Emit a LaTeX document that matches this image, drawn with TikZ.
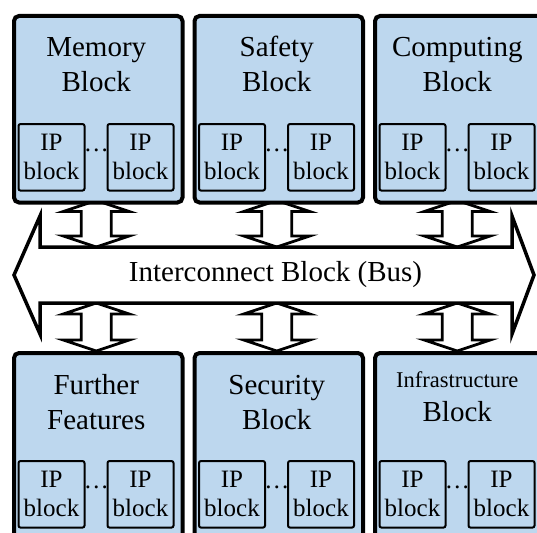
\documentclass[tikz,border=0pt]{standalone}
\usepackage{fontspec}
\setmainfont{Liberation Serif}
\definecolor{blockblue}{HTML}{BDD7EE}
\tikzset{
  unit/.style={draw=black, line width=4pt, fill=blockblue, rounded corners=5pt,
    minimum width=168.5pt, minimum height=186.5pt, inner sep=0pt, anchor=north west},
  ipbox/.style={draw=black, line width=2pt, fill=blockblue, rounded corners=2pt,
    minimum width=66pt, minimum height=66.5pt, inner sep=0pt, align=center,
    font=\fontsize{25}{29}\selectfont},
  dotsep/.style={inner sep=0pt, anchor=base, font=\fontsize{25}{29}\selectfont},
  title/.style={inner sep=0pt, anchor=base, font=\fontsize{29}{35}\selectfont},
  smalltitle/.style={title, font=\fontsize{22.5}{26}\selectfont},
  link/.style={draw=black, line width=2.8pt, fill=white, line join=miter},
  bus/.style={draw=black, line width=3.5pt, fill=white, line join=miter},
  buslabel/.style={inner sep=0pt, font=\fontsize{29}{35}\selectfont}
}
% one functional unit: name, left, top, first title line, its style,
% its baseline, second line, its baseline
\newcommand{\unitblock}[8]{%
  \begin{scope}[shift={(#2,#3)}]
    \node[unit] (#1) at (0,0) {};
    \node[#5] (#1-t1) at (84.25,#6) {#4};
    \node[title] (#1-t2) at (84.25,#8) {#7};
    \node[ipbox] (#1-ip1) at (39.5,143.3) {IP\\block};
    \node[ipbox] (#1-ip2) at (128.5,143.3) {IP\\block};
    \node[dotsep] (#1-dots) at (84.25,137) {\ldots};
  \end{scope}}
% vertical double arrow between a unit and the bus: centre x, top tip, bottom tip
\newcommand{\unitlink}[3]{%
  \draw[link] (#1,#2) -- (#1+33,#2+11) -- (#1+15,#2+11) -- (#1+15,#3-11)
    -- (#1+33,#3-11) -- (#1,#3) -- (#1-33,#3-11) -- (#1-15,#3-11)
    -- (#1-15,#2+11) -- (#1-33,#2+11) -- cycle;}
\begin{document}
\begin{tikzpicture}[x=1pt,y=-1pt]
  \useasboundingbox (0,0) rectangle (537,532);
  \clip (0,0) rectangle (537,532);

  % links between the units and the bus
  \unitlink{96.25}{200.5}{247}
  \unitlink{276.75}{200.5}{247}
  \unitlink{457.25}{200.5}{247}
  \unitlink{96.25}{303}{351}
  \unitlink{276.75}{303}{351}
  \unitlink{457.25}{303}{351}

  % interconnect bus
  \draw[bus] (14,275) -- (40,216) -- (40,247) -- (512,247) -- (512,216)
    -- (534,275) -- (512,334) -- (512,303) -- (40,303) -- (40,334) -- cycle;
  \node[buslabel] (bus) at (275.5,275) {Interconnect Block (Bus)};

  % functional units
  \unitblock{mem}{12}{14}{Memory}{title}{43}{Block}{78}
  \unitblock{safe}{192.5}{14}{Safety}{title}{43}{Block}{78}
  \unitblock{comp}{373}{14}{Computing}{title}{43}{Block}{78}
  \unitblock{feat}{12}{351}{Further}{title}{43}{Features}{78}
  \unitblock{sec}{192.5}{351}{Security}{title}{43}{Block}{78}
  \unitblock{infra}{373}{351}{Infrastructure}{smalltitle}{36}{Block}{70}
\end{tikzpicture}
\end{document}
